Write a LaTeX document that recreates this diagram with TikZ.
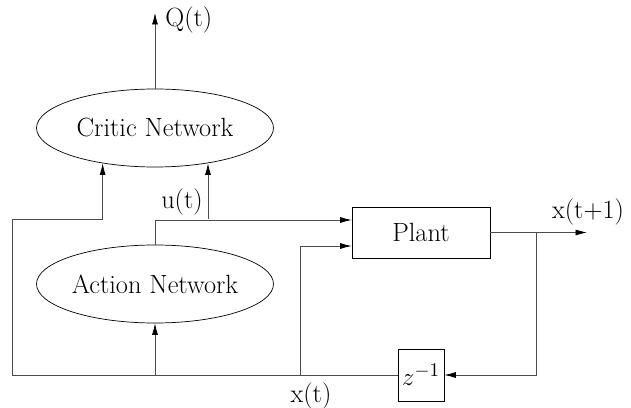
\documentclass[tikz,border=0pt]{standalone}
\usetikzlibrary{shapes.geometric,arrows.meta,positioning}
\tikzset{net node/.style={ellipse,draw,minimum width=4.74cm,minimum height=1.56cm,inner sep=0pt,font=\fontsize{15}{18}\selectfont},
         block node/.style={rectangle,draw,inner sep=0pt,font=\fontsize{15}{18}\selectfont},
         edge label/.style={rectangle,draw=none,fill=none,inner sep=0pt,font=\fontsize{15}{18}\selectfont},
         wire/.style={draw=black!70},
}
\begin{document}
\begin{tikzpicture}[->,>={Latex[length=2.3mm,width=1.2mm,color=black]}]

\useasboundingbox (0,0) rectangle (12.62,8.14);

% blocks
\node[net node] (critic) at (3.10,5.58) {Critic Network};
\node[net node] (action) at (3.10,2.46) {Action Network};
\node[block node, minimum width=2.76cm, minimum height=1.02cm] (plant) at (8.42,3.49) {Plant};
\node[block node, minimum width=0.92cm, minimum height=1.04cm] (zinv) at (8.42,0.64) {$z^{-1}$};

% junctions
\coordinate (qt) at (3.10,7.88);
\coordinate (lcorner) at (0.24,3.76);
\coordinate (ut) at (4.16,3.76);
\coordinate (xa) at (3.10,0.64);
\coordinate (xp) at (6.00,0.64);
\coordinate (fb) at (10.72,3.49);
\coordinate (xnext) at (11.74,3.49);

% labels
\node[edge label, anchor=west] (qlab) at (3.30,7.74) {Q(t)};
\node[edge label] (ulab) at (3.64,4.10) {u(t)};
\node[edge label] (xlab) at (6.22,0.22) {x(t)};
\node[edge label] (xnlab) at (11.76,3.90) {x(t+1)};

\draw[wire] (critic.north) -- (qt);
\draw[wire] (zinv.west) -| (lcorner) -| (critic.-146);
\draw[wire] (action.north) |- ([yshift=0.25cm]plant.west);
\draw[wire] (ut) -- (ut |- critic.-34);
\draw[wire] (xa) -- (action.south);
\draw[wire] (xp) |- ([yshift=-0.27cm]plant.west);
\draw[wire] (plant.east) -- (xnext);
\draw[wire] (fb) |- (zinv.east);

\end{tikzpicture}
\end{document}
